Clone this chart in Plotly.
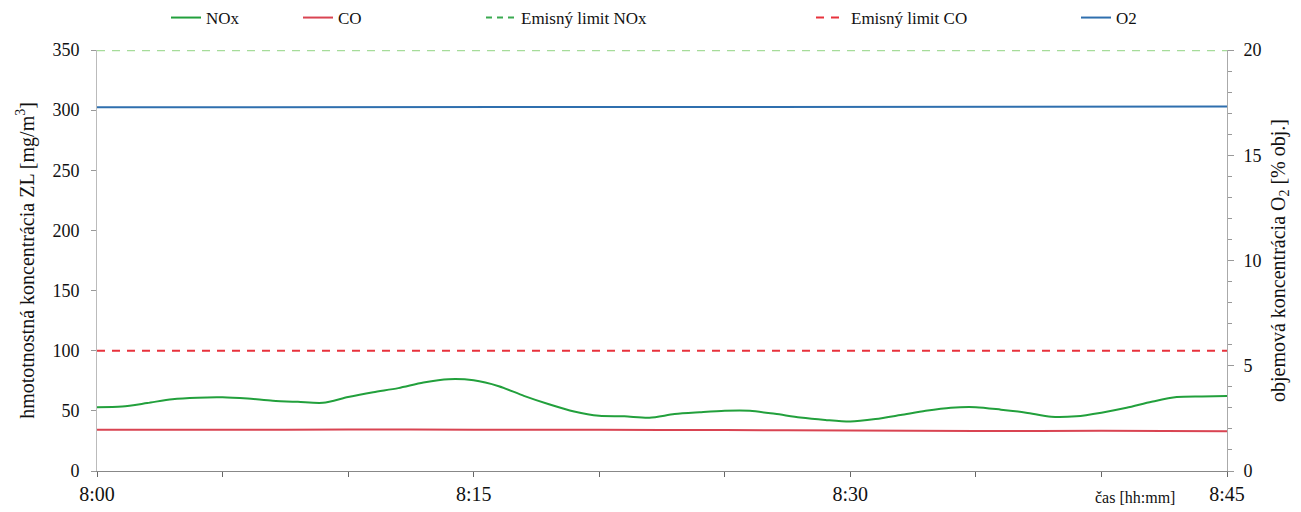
import plotly.graph_objects as go
import pandas as pd

# ---- data ----
start_time = "2024-01-01 08:00"
nox_minutes = list(range(46))
nox_values = [53.0, 53.6, 56.5, 59.7, 61.0, 61.3, 60.2, 58.4, 57.5, 56.7,
              61.5, 65.5, 68.9, 73.5, 76.3, 75.4, 70.5, 62.5, 55.5, 49.5,
              45.9, 45.5, 44.3, 47.3, 48.8, 50.0, 50.0, 47.5, 44.5, 42.5,
              41.2, 43.2, 46.5, 50.0, 52.6, 53.1, 51.0, 48.5, 45.1, 45.5,
              48.5, 52.5, 57.5, 61.5, 62.0, 62.3]

slow_minutes = [0, 5, 10, 15, 20, 25, 30, 35, 40, 45]
co_values = [34.3, 34.2, 34.5, 34.3, 34.2, 34.0, 33.7, 33.3, 33.4, 33.1]
o2_values = [17.28, 17.28, 17.29, 17.29, 17.30, 17.30, 17.30, 17.31, 17.31, 17.31]

limit_minutes = [0, 45]
nox_limit = [350, 350]
co_limit = [100, 100]

x_tick_minutes = [0, 15, 30, 45]

names = ["NOx", "CO", "Emisný limit NOx", "Emisný limit CO", "O2"]

# ---- build ----
t0 = pd.Timestamp(start_time)
def to_time(mins):
    return [t0 + pd.Timedelta(minutes=m) for m in mins]

FONT = "Times New Roman, DejaVu Serif, serif"
GREEN = "#22a03c"
RED = "#d94452"
LIMIT_GREEN = "#a6dc9a"
LIMIT_GREEN_LEG = "#3aaa50"
LIMIT_RED = "#e8323c"
BLUE = "#2f6fae"

fig = go.Figure()

fig.add_trace(go.Scatter(x=to_time(nox_minutes), y=nox_values, name=names[0],
                         mode="lines", line=dict(color=GREEN, width=2, shape="spline", smoothing=0.8),
                         legend="legend"))
fig.add_trace(go.Scatter(x=to_time(slow_minutes), y=co_values, name=names[1],
                         mode="lines", line=dict(color=RED, width=2, shape="spline", smoothing=0.8),
                         legend="legend2"))
fig.add_trace(go.Scatter(x=to_time(limit_minutes), y=nox_limit, name=names[2],
                         mode="lines", line=dict(color=LIMIT_GREEN, width=2.5, dash="8px,7px"),
                         showlegend=False))
fig.add_trace(go.Scatter(x=[None], y=[None], name=names[2],
                         mode="lines", line=dict(color=LIMIT_GREEN_LEG, width=2, dash="6px,5px"),
                         legend="legend3"))
fig.add_trace(go.Scatter(x=to_time(limit_minutes), y=co_limit, name=names[3],
                         mode="lines", line=dict(color=LIMIT_RED, width=2, dash="8px,7px"),
                         legend="legend4"))
fig.add_trace(go.Scatter(x=to_time(slow_minutes), y=o2_values, name=names[4], yaxis="y2",
                         mode="lines", line=dict(color=BLUE, width=2),
                         legend="legend5"))

PL, PR, PT, PB = 97, 74, 50, 41
W, H = 1301, 512
pw = W - PL - PR
ph = H - PT - PB

def lx(px):
    return px / W

leg_common = dict(orientation="h", yanchor="middle", y=1 - 18 / H, yref="container",
                  xref="container", xanchor="left",
                  font=dict(family=FONT, size=17, color="#111"), bgcolor="rgba(0,0,0,0)")

fig.update_layout(
    width=W, height=H,
    margin=dict(l=PL, r=PR, t=PT, b=PB, autoexpand=False),
    paper_bgcolor="white", plot_bgcolor="white",
    font=dict(family=FONT, size=16, color="#111"),
    legend=dict(x=lx(166), **leg_common),
    legend2=dict(x=lx(298), **leg_common),
    legend3=dict(x=lx(481), **leg_common),
    legend4=dict(x=lx(811), **leg_common),
    legend5=dict(x=lx(1076), **leg_common),
    xaxis=dict(
        type="date",
        range=[to_time([0])[0], to_time([45])[0]],
        tickvals=to_time(x_tick_minutes),
        tickformat="%-H:%M",
        ticks="outside", ticklen=5, tickcolor="#666",
        showline=True, linecolor="#888", linewidth=1,
        showgrid=False, zeroline=False,
        tickfont=dict(family=FONT, size=20, color="#111"),
        minor=dict(ticks="outside", ticklen=5, tickcolor="#666", dtick=5 * 60000, showgrid=False),
    ),
    yaxis=dict(
        range=[0, 350], dtick=50,
        ticks="outside", ticklen=5, tickcolor="#999",
        showline=True, linecolor="#bbb", linewidth=1,
        showgrid=False, zeroline=False,
        tickfont=dict(family=FONT, size=18, color="#111"),
        ticklabelstandoff=8,
        title=dict(text="hmototnostná koncentrácia ZL [mg/m<sup>3</sup>]",
                   font=dict(family=FONT, size=20, color="#111"), standoff=12),
    ),
    yaxis2=dict(
        range=[0, 20], dtick=5, overlaying="y", side="right",
        ticks="outside", ticklen=6, tickcolor="#999",
        showline=True, linecolor="#aaa", linewidth=1,
        showgrid=False, zeroline=False,
        tickfont=dict(family=FONT, size=18, color="#111"),
        ticklabelstandoff=6,
        minor=dict(ticks="outside", ticklen=4, tickcolor="#999", dtick=1, showgrid=False),
        title=dict(text="objemová koncentrácia O<sub>2</sub> [% obj.]",
                   font=dict(family=FONT, size=20, color="#111"), standoff=10),
    ),
    annotations=[dict(text="čas [hh:mm]", xref="paper", yref="paper",
                      x=(1135 - PL) / pw, y=-(497 - (H - PB)) / ph, showarrow=False,
                      xanchor="center", yanchor="middle",
                      font=dict(family=FONT, size=16, color="#111"))],
)

fig.write_html("out.html")
